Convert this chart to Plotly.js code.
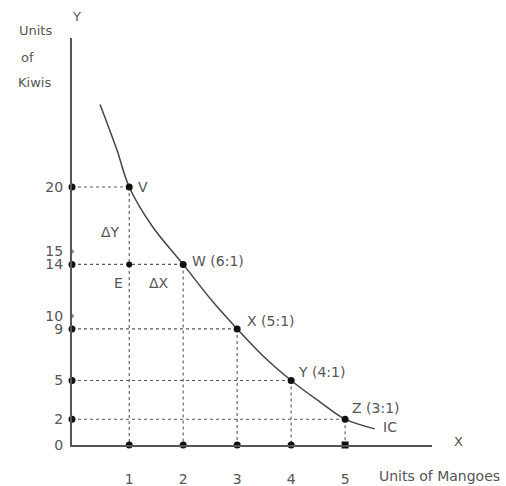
<!DOCTYPE html>
<html><head><meta charset="utf-8">
<script src="https://cdn.plot.ly/plotly-3.0.1.min.js"></script>
<style>html,body{margin:0;padding:0;background:#fff}#c{width:506px;height:486px}</style>
</head><body><div id="c"></div>
<script>
// Data
const pointNames = ['V', 'W', 'X', 'Y', 'Z'];
const mrsLabels = ['V', 'W (6:1)', 'X (5:1)', 'Y (4:1)', 'Z (3:1)'];
const mangoes = [1, 2, 3, 4, 5];
const kiwis = [20, 14, 9, 5, 2];
const curveX = [0.46, 0.77, 1, 1.42, 2, 2.55, 3, 3.48, 4, 4.53, 5, 5.55];
const curveY = [26.4, 22.9, 20, 17.0, 14, 11.1, 9, 6.9, 5, 3.35, 2, 1.25];
const yTicks = [0, 2, 5, 9, 10, 14, 15, 20];
const yMinorMarks = [10, 15];
const xTicks = [1, 2, 3, 4, 5];
const pointE = {x: 1, y: 14};

const X0 = -0.06, XMAX = 6.61, YMAX = 31.55;
const ink = '#444', soft = '#5a5a5a';
const font = '"DejaVu Sans", Lato, sans-serif';
const dash = '3px,3px';

const traces = [];
// dashed guide lines
for (let i = 0; i < mangoes.length; i++) {
  traces.push({x: [X0, mangoes[i]], y: [kiwis[i], kiwis[i]], mode: 'lines',
    line: {color: soft, width: 1.1, dash: dash}, hoverinfo: 'skip', showlegend: false});
  traces.push({x: [mangoes[i], mangoes[i]], y: [kiwis[i], 0], mode: 'lines',
    line: {color: soft, width: 1.1, dash: dash}, hoverinfo: 'skip', showlegend: false});
}
// indifference curve
traces.push({x: curveX, y: curveY, mode: 'lines', line: {color: ink, width: 1.5, shape: 'spline', smoothing: 1},
  hoverinfo: 'skip', showlegend: false});
// points on curve
traces.push({x: mangoes, y: kiwis, mode: 'markers', marker: {color: '#111', size: 7}, showlegend: false, cliponaxis: false});
// point E
traces.push({x: [pointE.x], y: [pointE.y], mode: 'markers', marker: {color: '#111', size: 6}, showlegend: false});
// dots on y axis
traces.push({x: kiwis.map(() => X0), y: kiwis, mode: 'markers', marker: {color: '#111', size: 7}, showlegend: false, cliponaxis: false});
traces.push({x: yMinorMarks.map(() => X0), y: yMinorMarks, mode: 'markers', marker: {color: '#888', size: 4}, showlegend: false, cliponaxis: false});
// dots on x axis
traces.push({x: mangoes, y: mangoes.map(() => 0), mode: 'markers',
  marker: {color: '#111', size: 7, symbol: mangoes.map(v => v === 5 ? 'square' : 'circle')}, showlegend: false, cliponaxis: false});

// pixel helpers for paper coords (plot area: x 72..432, y 38..445)
const px = x => (x - 72) / 360;
const py = y => (445 - y) / 407;

const lblOffsets = [[7, 0], [7, 3], [8, 8], [5, 9], [5, 11]];
const ann = [];
for (let i = 0; i < mangoes.length; i++) {
  ann.push({x: mangoes[i], y: kiwis[i], xref: 'x', yref: 'y', text: mrsLabels[i], showarrow: false,
    xanchor: 'left', yanchor: 'middle', xshift: lblOffsets[i][0], yshift: lblOffsets[i][1],
    font: {family: font, size: 14, color: '#555'}});
}
const txt = (t, x, y, size, anchor) => ({text: t, x: px(x), y: py(y), xref: 'paper', yref: 'paper',
  showarrow: false, xanchor: anchor || 'center', yanchor: 'middle', font: {family: font, size: size || 14, color: '#555'}});
ann.push(txt('E', 118, 283, 14));
ann.push(txt('ΔX', 159, 283, 14));
ann.push(txt('ΔY', 110, 232, 14));
ann.push(txt('IC', 390, 427, 14));
ann.push(txt('Y', 76, 16, 13));
ann.push(txt('X', 458, 441, 13));
ann.push(txt('Units of Mangoes', 439, 476, 14));
ann.push(txt('Units', 35, 31, 13));
ann.push(txt('of', 27, 57, 13));
ann.push(txt('Kiwis', 34, 82, 13));

const layout = {
  width: 506, height: 486,
  margin: {l: 72, r: 74, t: 38, b: 41},
  paper_bgcolor: '#fff', plot_bgcolor: '#fff',
  showlegend: false,
  xaxis: {range: [X0, XMAX], showgrid: false, zeroline: false, showline: true, linecolor: '#555', linewidth: 2,
    tickvals: xTicks, ticks: '', ticklabelstandoff: 20, tickfont: {family: font, size: 14, color: '#555'}, fixedrange: true},
  yaxis: {range: [0, YMAX], showgrid: false, zeroline: false, showline: true, linecolor: '#555', linewidth: 2,
    tickvals: yTicks, ticks: '', ticklabelstandoff: 4, tickfont: {family: font, size: 14, color: '#555'}, fixedrange: true},
  annotations: ann
};
Plotly.newPlot('c', traces, layout, {displayModeBar: false, staticPlot: true});
</script></body></html>
